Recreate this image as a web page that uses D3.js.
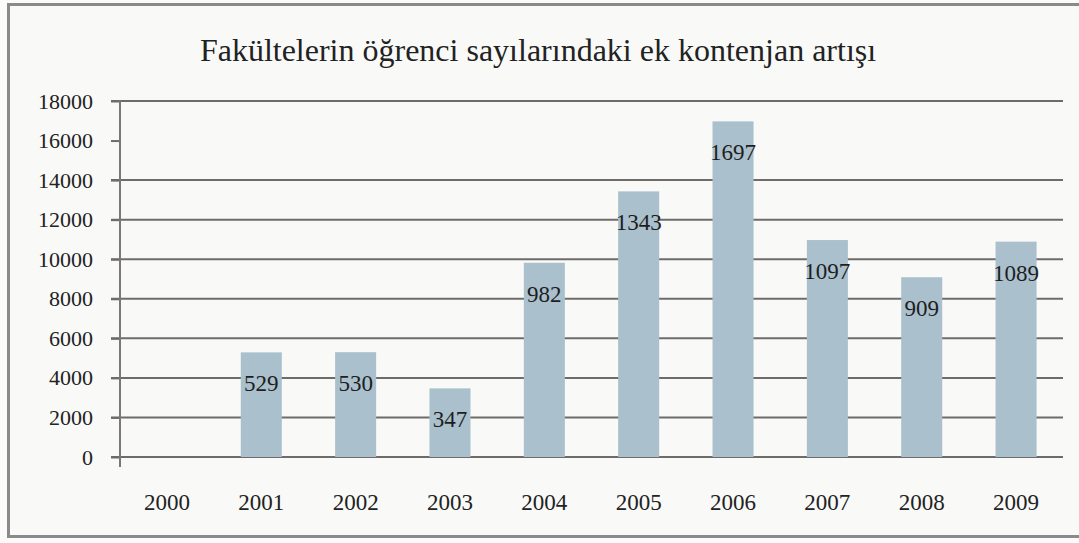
<!DOCTYPE html>
<html lang="tr">
<head>
<meta charset="UTF-8">
<title>Fakültelerin öğrenci sayılarındaki ek kontenjan artışı</title>
<script src="https://cdnjs.cloudflare.com/ajax/libs/d3/7.8.5/d3.min.js"></script>
<style>
    html, body { margin: 0; padding: 0; background: #ffffff; }
    svg text { font-family: 'Liberation Serif', 'Times New Roman', Times, serif !important; }
</style>
</head>
<body>
<div id="chartArea"></div>
<script>
    // data
    const years = ["2000", "2001", "2002", "2003", "2004", "2005", "2006", "2007", "2008", "2009"];
    const values = [0, 5290, 5300, 3470, 9820, 13430, 16970, 10970, 9090, 10890];
    const barLabels = [null, 529, 530, 347, 982, 1343, 1697, 1097, 909, 1089];
    const yTicks = [0, 2000, 4000, 6000, 8000, 10000, 12000, 14000, 16000, 18000];
    const title = "Fakültelerin öğrenci sayılarındaki ek kontenjan artışı";

    const width = 1079, height = 543;
    const margin = { top: 101, right: 16, bottom: 85, left: 120 };

    const svg = d3.select("#chartArea").append("svg")
        .attr("width", width)
        .attr("height", height)
        .style("display", "block");

    // paper + frame
    svg.append("rect")
        .attr("width", width).attr("height", height)
        .attr("fill", "#fbfbfa");
    svg.append("rect")
        .attr("x", 8.5).attr("y", 4.5)
        .attr("width", width + 20).attr("height", 532)
        .attr("fill", "#f9faf8")
        .attr("stroke", "#8a8a8a")
        .attr("stroke-width", 3);

    svg.append("text")
        .attr("x", 538).attr("y", 61)
        .attr("text-anchor", "middle")
        .attr("font-size", 32)
        .attr("fill", "#222")
        .text(title);

    const x = d3.scaleBand()
        .domain(years)
        .range([margin.left, width - margin.right])
        .paddingInner(0.565)
        .paddingOuter(0.28);

    const y = d3.scaleLinear()
        .domain([0, 18000])
        .range([height - margin.bottom - 1, margin.top]);

    // gridlines (the 16000 line is not visible in the source scan)
    svg.append("g")
        .selectAll("line")
        .data(yTicks.filter(d => d !== 16000))
        .join("line")
        .attr("x1", margin.left - 9)
        .attr("x2", width - margin.right)
        .attr("y1", d => y(d))
        .attr("y2", d => y(d))
        .attr("stroke", "#6f6b6b")
        .attr("stroke-width", 2);

    // bars
    svg.append("g")
        .selectAll("rect")
        .data(values)
        .join("rect")
        .attr("x", (d, i) => x(years[i]))
        .attr("width", x.bandwidth())
        .attr("y", d => y(d))
        .attr("height", d => y(0) - y(d))
        .attr("fill", "#aac0cd");

    // y axis
    const yAxis = svg.append("g")
        .attr("transform", `translate(${margin.left},0)`)
        .call(d3.axisLeft(y).tickValues(yTicks).tickSize(9).tickPadding(18).tickFormat(d3.format("d")));
    yAxis.select(".domain").remove();
    yAxis.selectAll(".tick line").attr("stroke", "#6f6b6b").attr("stroke-width", 2);
    yAxis.selectAll(".tick text")
        .attr("font-size", 22)
        .attr("fill", "#222");
    yAxis.append("line")
        .attr("y1", y(18000) - 1).attr("y2", y(0) + 10)
        .attr("stroke", "#7a7777").attr("stroke-width", 2);

    // x labels
    svg.append("g")
        .selectAll("text")
        .data(years)
        .join("text")
        .attr("x", d => x(d) + x.bandwidth() / 2)
        .attr("y", 510)
        .attr("text-anchor", "middle")
        .attr("font-size", 23)
        .attr("fill", "#222")
        .text(d => d);

    // value labels inside bars
    svg.append("g")
        .selectAll("text")
        .data(values)
        .join("text")
        .attr("x", (d, i) => x(years[i]) + x.bandwidth() / 2)
        .attr("y", d => y(d) + 39)
        .attr("text-anchor", "middle")
        .attr("font-size", 23)
        .attr("fill", "#1e1e1e")
        .text((d, i) => barLabels[i] === null ? "" : barLabels[i]);
</script>
</body>
</html>
